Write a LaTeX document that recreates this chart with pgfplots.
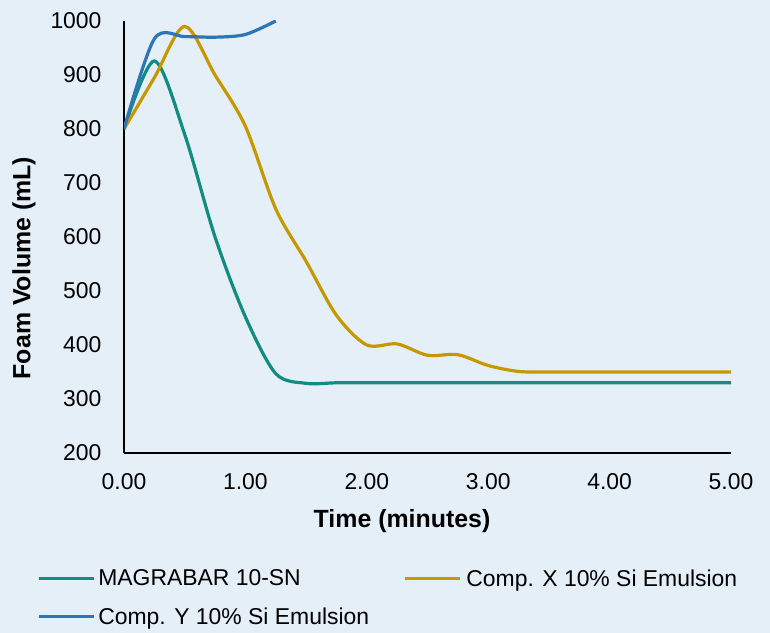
\documentclass[border=0pt]{standalone}
\usepackage{fontspec}
\setmainfont{Liberation Sans}
\usepackage{pgfplots}
\pgfplotsset{compat=1.18}

\definecolor{bgc}{RGB}{229,239,248}
\definecolor{cgreen}{RGB}{18,140,128}
\definecolor{cgold}{RGB}{197,152,0}
\definecolor{cblue}{RGB}{46,117,182}

\begin{document}
\begin{tikzpicture}[x=1bp,y=1bp]
\useasboundingbox (0,0) rectangle (770,633);
\fill[bgc] (0,0) rectangle (770,633);
\begin{axis}[
	at={(124bp,180bp)}, anchor=south west,
	scale only axis, width=607bp, height=432bp,
	xmin=0, xmax=5, ymin=200, ymax=1000,
	axis x line*=bottom, axis y line*=left,
	axis line style={line width=1.5bp, black},
	major tick length=0pt,
	xtick={0,1,2,3,4,5},
	ytick={200,300,400,500,600,700,800,900,1000},
	/pgf/number format/assume math mode=true,
	/pgf/number format/1000 sep={},
	tick label style={font=\fontsize{23}{27}\selectfont},
	x tick label style={yshift=-16.5bp, /pgf/number format/.cd, fixed, fixed zerofill, precision=2},
	y tick label style={xshift=-19bp},
	xlabel={Time (minutes)},
	ylabel={Foam Volume (mL)},
	label style={font=\fontsize{25}{30}\selectfont\bfseries},
	x label style={at={(axis description cs:0.458,-0.157)}, anchor=center},
	y label style={at={(axis description cs:-0.165,0.428)}, anchor=center},
	legend columns=2,
	legend cell align=left,
	legend image code/.code={\draw[#1] (0bp,0bp) -- (55bp,0bp);},
	legend style={
		at={(axis description cs:-0.1434,-0.269)}, anchor=north west,
		draw=none, fill=none, inner sep=0pt,
		font=\fontsize{23}{27}\selectfont,
		nodes={inner sep=0pt},
		row sep=20bp,
		/tikz/column 1/.style={column sep=3bp},
		/tikz/column 2/.style={column sep=34bp},
		/tikz/column 3/.style={column sep=5bp},
	},
	every axis plot/.append style={line width=3.2bp, smooth},
]
\addplot[cgreen] coordinates {
	(0,800) (0.25,926) (0.5,790) (0.75,600) (1.0,452) (1.25,347) (1.5,329)
	(1.75,330) (2.0,330) (2.25,330) (2.5,330) (2.75,330) (3.0,330) (3.25,330)
	(3.5,330) (3.75,330) (4.0,330) (4.25,330) (4.5,330) (4.75,330) (5.0,330)
};
\addlegendentry{MAGRABAR 10-SN}
\addplot[cgold] coordinates {
	(0,800) (0.25,895) (0.5,990) (0.75,900) (1.0,805) (1.25,652) (1.5,555)
	(1.75,455) (2.0,400) (2.25,402) (2.5,381) (2.75,382) (3.0,362) (3.25,351)
	(3.5,350) (3.75,350) (4.0,350) (4.25,350) (4.5,350) (4.75,350) (5.0,350)
};
\addlegendentry{Comp. X 10\% Si Emulsion}
\addplot[cblue] coordinates {
	(0,800) (0.25,967) (0.5,971) (0.75,970) (1.0,975) (1.25,1000)
};
\addlegendentry{Comp. Y 10\% Si Emulsion}
\end{axis}
\end{tikzpicture}
\end{document}
